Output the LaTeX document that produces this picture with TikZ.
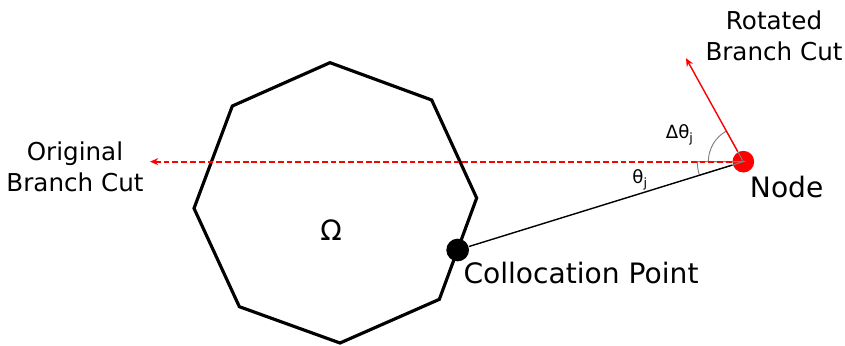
\documentclass[tikz,border=0pt]{standalone}
\usepackage{fontspec}
\setmainfont{DejaVu Sans}
\usepackage{tikz}
\usetikzlibrary{arrows,positioning,calc}
\usetikzlibrary{arrows.meta}

\begin{document}
\begin{tikzpicture}[
    >={Stealth[length=7pt, width=6pt]},
    line width=1.2pt,
    dot/.style={circle, fill, inner sep=0pt, minimum size=6.5mm},
    lbl/.style={align=center, font=\fontsize{21}{26}\selectfont},
    biglbl/.style={font=\fontsize{24}{28}\selectfont},
    ang/.style={font=\fontsize{15.5}{18}\selectfont},
    cut/.style={draw=red, line width=1.5pt}
]
  \useasboundingbox (0,0) rectangle (25.35,10.35);

  % domain
  \draw[line width=2.7pt, line join=miter] (9.90,8.47) -- (12.95,7.35) -- (14.30,4.41) -- (13.18,1.37)
    -- (10.20,0.06) -- (7.18,1.15) -- (5.82,4.10) -- (6.97,7.17) -- cycle;

  % nodes
  \node[dot, red] (N) at (22.30,5.50) {};
  \node[dot, black, minimum size=6.8mm] (C) at (13.73,2.85) {};
  \coordinate (orig) at (4.50,5.50);
  \coordinate (rot) at ($(N)+(119:3.55)$);

  % angles
  \draw[gray, line width=0.8pt] (N.center) -- ++(180:1.38) arc (180:197.2:1.38) -- cycle;
  \draw[gray, line width=0.8pt] (N.center) -- ++(119:1.05) arc (119:180:1.05) -- cycle;

  % edges
  \draw[cut, dash pattern=on 5pt off 2.5pt, ->] (N) -- (orig);
  \draw[cut, line width=1.2pt, ->] (N) -- (rot);
  \draw (N) -- (C);

  % labels
  \node[biglbl] (om) at (9.93,3.45) {Ω};
  \node[lbl] (origlbl) at (2.25,5.34) {Original\\Branch Cut};
  \node[lbl] (rotlbl) at (23.22,9.27) {Rotated\\Branch Cut};
  \node[biglbl] (nodelbl) at (23.60,4.74) {Node};
  \node[biglbl] (clbl) at (17.43,2.16) {Collocation Point};
  \node[ang] (th) at (19.20,4.95) {θ\textsubscript{j}};
  \node[ang] (dth) at (20.39,6.30) {Δθ\textsubscript{j}};
\end{tikzpicture}
\end{document}
